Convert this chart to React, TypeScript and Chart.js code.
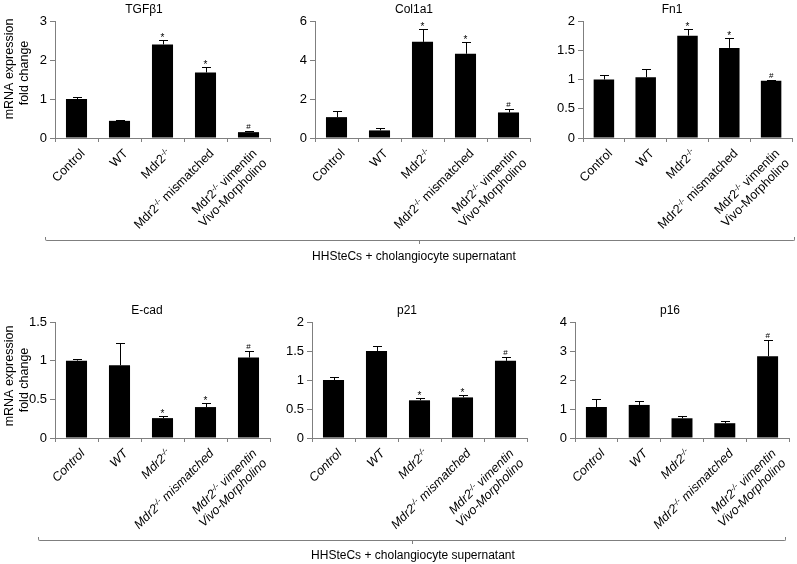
import React, { useEffect, useRef } from "react";
import { Chart, registerables } from "chart.js";

Chart.register(...registerables);

// ---------- data ----------
const categories: string[][] = [
  ["Control"],
  ["WT"],
  ["Mdr2^{-/-}"],
  ["Mdr2^{-/-} mismatched"],
  ["Mdr2^{-/-} vimentin", "Vivo-Morpholino"],
];

const panelTitles = ["TGFβ1", "Col1a1", "Fn1", "E-cad", "p21", "p16"];

const tgfb1Values = [1.0, 0.44, 2.4, 1.68, 0.15];
const tgfb1Errors = [0.04, 0.02, 0.12, 0.15, 0.02];
const tgfb1Marks = ["", "", "*", "*", "#"];

const col1a1Values = [1.07, 0.39, 4.93, 4.32, 1.31];
const col1a1Errors = [0.3, 0.12, 0.66, 0.6, 0.17];
const col1a1Marks = ["", "", "*", "*", "#"];

const fn1Values = [1.0, 1.04, 1.75, 1.54, 0.98];
const fn1Errors = [0.08, 0.14, 0.11, 0.17, 0.02];
const fn1Marks = ["", "", "*", "*", "#"];

const ecadValues = [1.0, 0.94, 0.257, 0.4, 1.04];
const ecadErrors = [0.02, 0.29, 0.025, 0.05, 0.08];
const ecadMarks = ["", "", "*", "*", "#"];

const p21Values = [1.0, 1.5, 0.65, 0.7, 1.33];
const p21Errors = [0.06, 0.09, 0.035, 0.05, 0.07];
const p21Marks = ["", "", "*", "*", "#"];

const p16Values = [1.07, 1.14, 0.68, 0.51, 2.82];
const p16Errors = [0.27, 0.15, 0.09, 0.08, 0.57];
const p16Marks = ["", "", "", "", "#"];

const yAxisMax = [3, 6, 2, 1.5, 2, 4];
const yAxisStep = [1, 2, 0.5, 0.5, 0.5, 1];

const yAxisTitleLines = ["mRNA expression", "fold change"];
const groupLabel = "HHSteCs + cholangiocyte supernatant";

const seriesValues = [tgfb1Values, col1a1Values, fn1Values, ecadValues, p21Values, p16Values];
const seriesErrors = [tgfb1Errors, col1a1Errors, fn1Errors, ecadErrors, p21Errors, p16Errors];
const seriesMarks = [tgfb1Marks, col1a1Marks, fn1Marks, ecadMarks, p21Marks, p16Marks];

// ---------- layout (page pixels) ----------
type PanelLayout = {
  left: number;
  top: number;
  width: number;
  height: number;
  plotLeft: number;
  plotRight: number;
  plotTop: number;
  plotBottom: number;
  titleX: number;
  titleY: number;
  yTitle: boolean;
  italic: boolean;
};

const layouts: PanelLayout[] = [
  { left: 0, top: 0, width: 285, height: 240, plotLeft: 55, plotRight: 270, plotTop: 21, plotBottom: 138, titleX: 144, titleY: 10, yTitle: true, italic: false },
  { left: 260, top: 0, width: 285, height: 240, plotLeft: 315, plotRight: 530, plotTop: 21, plotBottom: 138, titleX: 414, titleY: 10, yTitle: false, italic: false },
  { left: 530, top: 0, width: 267, height: 240, plotLeft: 583, plotRight: 792, plotTop: 21, plotBottom: 138, titleX: 672, titleY: 10, yTitle: false, italic: false },
  { left: 0, top: 300, width: 285, height: 264, plotLeft: 55, plotRight: 270, plotTop: 322, plotBottom: 438, titleX: 147, titleY: 311, yTitle: true, italic: true },
  { left: 260, top: 300, width: 285, height: 264, plotLeft: 312, plotRight: 527, plotTop: 322, plotBottom: 438, titleX: 407, titleY: 311, yTitle: false, italic: true },
  { left: 530, top: 300, width: 267, height: 264, plotLeft: 575, plotRight: 789, plotTop: 322, plotBottom: 438, titleX: 670, titleY: 311, yTitle: false, italic: true },
];

const FAMILY = '"Liberation Sans", Arial, Helvetica, sans-serif';
const AXIS_GRAY = "#7f7f7f";

function fontStr(size: number, italic = false) {
  return `${italic ? "italic " : ""}${size}px ${FAMILY}`;
}

type Seg = { t: string; sup: boolean };
function parseSegs(s: string): Seg[] {
  const out: Seg[] = [];
  const re = /\^\{([^}]*)\}/g;
  let last = 0;
  let m: RegExpExecArray | null;
  while ((m = re.exec(s))) {
    if (m.index > last) out.push({ t: s.slice(last, m.index), sup: false });
    out.push({ t: m[1], sup: true });
    last = m.index + m[0].length;
  }
  if (last < s.length) out.push({ t: s.slice(last), sup: false });
  return out;
}

function makePlugin(i: number) {
  const L = layouts[i];
  const values = seriesValues[i];
  const errors = seriesErrors[i];
  const marks = seriesMarks[i];
  return {
    id: "panelDecor" + i,
    afterDraw(chart: any) {
      const ctx: CanvasRenderingContext2D = chart.ctx;
      const ys = chart.scales.y;
      const xs = chart.scales.x;
      const area = chart.chartArea;
      const meta = chart.getDatasetMeta(0);
      ctx.save();

      // error bars + significance marks
      ctx.strokeStyle = "#000";
      ctx.lineWidth = 1;
      ctx.fillStyle = "#000";
      meta.data.forEach((bar: any, k: number) => {
        const topY = Math.round(ys.getPixelForValue(values[k] + errors[k])) + 0.5;
        const x = Math.round(bar.x) + 0.5;
        ctx.beginPath();
        ctx.moveTo(x, bar.y);
        ctx.lineTo(x, topY);
        ctx.moveTo(x - 4.5, topY);
        ctx.lineTo(x + 4.5, topY);
        ctx.stroke();
        const mk = marks[k];
        if (mk) {
          ctx.font = fontStr(mk === "*" ? 10 : 8);
          ctx.textAlign = "center";
          ctx.textBaseline = "alphabetic";
          ctx.fillText(mk, bar.x, topY - (mk === "*" ? 0 : 3));
        }
      });

      // title
      ctx.font = fontStr(12);
      ctx.textAlign = "center";
      ctx.textBaseline = "middle";
      ctx.fillStyle = "#000";
      ctx.fillText(panelTitles[i], L.titleX - L.left, L.titleY - L.top);

      // y axis title
      if (L.yTitle) {
        const centers = [
          [10, 69],
          [25, 73],
        ];
        yAxisTitleLines.forEach((line, j) => {
          ctx.save();
          ctx.translate(centers[j][0] - L.left, centers[j][1] + (L.top ? 7 : 0));
          ctx.rotate(-Math.PI / 2);
          ctx.font = fontStr(12.5);
          ctx.textAlign = "center";
          ctx.textBaseline = "middle";
          ctx.fillText(line, 0, 0);
          ctx.restore();
        });
      }

      // x category labels (rotated 45deg, superscript support)
      const mainFont = fontStr(12.5, L.italic);
      const supFont = fontStr(8, L.italic);
      categories.forEach((lines, k) => {
        const cx = xs.getPixelForValue(k);
        ctx.save();
        ctx.translate(cx + 9, area.bottom + 16);
        ctx.rotate(-Math.PI / 4);
        ctx.textBaseline = "alphabetic";
        ctx.textAlign = "left";
        lines.forEach((line, j) => {
          const segs = parseSegs(line);
          let total = 0;
          const widths = segs.map((s) => {
            ctx.font = s.sup ? supFont : mainFont;
            const w = ctx.measureText(s.t).width;
            total += w;
            return w;
          });
          let xx = -total;
          const yy = j * 14;
          segs.forEach((s, n) => {
            ctx.font = s.sup ? supFont : mainFont;
            ctx.fillText(s.t, xx, yy - (s.sup ? 4 : 0));
            xx += widths[n];
          });
        });
        ctx.restore();
      });

      ctx.restore();
    },
  };
}

function Panel({ index }: { index: number }) {
  const ref = useRef<HTMLCanvasElement | null>(null);
  const L = layouts[index];
  useEffect(() => {
    const canvas = ref.current!;
    const axisWidth = L.plotLeft - L.left;
    const padRight = L.width - (L.plotRight - L.left);
    const xHeight = L.height - (L.plotBottom - L.top);
    const chart = new Chart(canvas, {
      type: "bar",
      data: {
        labels: categories.map((c) => c.join(" ")),
        datasets: [
          {
            data: seriesValues[index],
            backgroundColor: "#000",
            borderWidth: 0,
            barPercentage: 0.49,
            categoryPercentage: 1,
          },
        ],
      },
      options: {
        responsive: false,
        animation: false,
        devicePixelRatio: 1,
        events: [],
        layout: { padding: { top: L.plotTop - L.top, right: padRight, left: 0, bottom: 0 } },
        plugins: {
          legend: { display: false },
          title: { display: false },
          tooltip: { enabled: false },
        },
        scales: {
          x: {
            type: "category",
            offset: true,
            grid: {
              display: true,
              offset: true,
              drawOnChartArea: false,
              drawTicks: true,
              tickLength: 4,
              color: AXIS_GRAY,
            },
            border: { display: true, color: AXIS_GRAY, width: 1 },
            ticks: { display: false },
            afterFit: (s: any) => {
              s.height = xHeight;
            },
          },
          y: {
            type: "linear",
            min: 0,
            max: yAxisMax[index],
            ticks: {
              stepSize: yAxisStep[index],
              font: { family: FAMILY, size: 13 },
              color: "#000",
              padding: 3,
              callback: (v: any) => String(Math.round(Number(v) * 100) / 100),
            },
            grid: {
              drawOnChartArea: false,
              drawTicks: true,
              tickLength: 5,
              color: AXIS_GRAY,
            },
            border: { display: true, color: AXIS_GRAY, width: 1 },
            afterFit: (s: any) => {
              s.width = axisWidth;
            },
          },
        },
      },
      plugins: [makePlugin(index)],
    } as any);
    return () => chart.destroy();
  }, [index]);
  return (
    <canvas
      ref={ref}
      width={L.width}
      height={L.height}
      style={{ position: "absolute", left: L.left, top: L.top, width: L.width, height: L.height }}
    />
  );
}

function Bracket({ x1, x2, y, cx, textCx, textCy }: { x1: number; x2: number; y: number; cx: number; textCx: number; textCy: number }) {
  return (
    <>
      <div
        style={{
          position: "absolute",
          left: x1,
          top: y - 3,
          width: x2 - x1,
          height: 3,
          borderLeft: `1px solid ${AXIS_GRAY}`,
          borderRight: `1px solid ${AXIS_GRAY}`,
          borderBottom: `1px solid ${AXIS_GRAY}`,
          borderBottomLeftRadius: 2,
          borderBottomRightRadius: 2,
          boxSizing: "content-box",
        }}
      />
      <div style={{ position: "absolute", left: cx, top: y + 1, width: 1, height: 3, background: AXIS_GRAY }} />
      <div
        style={{
          position: "absolute",
          left: textCx - 200,
          width: 400,
          top: textCy - 7,
          height: 14,
          lineHeight: "14px",
          textAlign: "center",
          fontFamily: FAMILY,
          fontSize: 12,
          color: "#000",
          whiteSpace: "nowrap",
        }}
      >
        {groupLabel}
      </div>
    </>
  );
}

export default function App() {
  return (
    <div style={{ position: "absolute", left: 0, top: 0, width: 797, height: 564, background: "#fff", overflow: "hidden" }}>
      {layouts.map((_, i) => (
        <Panel key={i} index={i} />
      ))}
      <Bracket x1={45} x2={793} y={240} cx={419} textCx={414} textCy={256} />
      <Bracket x1={38} x2={784} y={540} cx={412} textCx={413} textCy={555} />
    </div>
  );
}
